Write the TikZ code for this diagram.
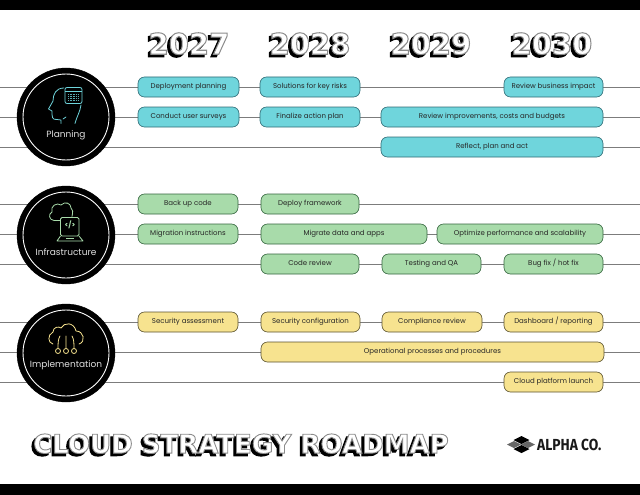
\documentclass[tikz,border=0pt]{standalone}
\usepackage{fontspec}
\setmainfont{Poppins}
\newfontfamily\blockfill[FakeBold=3.5]{DejaVu Sans Bold}
\newfontfamily\blockdark[FakeBold=4]{DejaVu Sans Bold}
\newfontfamily\logofont[FakeStretch=0.86]{Fira Sans Bold}
\definecolor{planfill}{HTML}{6FD5DC}
\definecolor{planedge}{HTML}{2F6B75}
\definecolor{infrafill}{HTML}{A8DBAA}
\definecolor{infraedge}{HTML}{35663F}
\definecolor{implfill}{HTML}{F7E38F}
\definecolor{impledge}{HTML}{5A5230}
\definecolor{rowline}{HTML}{7C7C7C}
\definecolor{logogray}{HTML}{666666}
% extruded lettering: dark copy behind, white face with a grey stroke
\newcommand{\blocktext}[1]{\rlap{\kern-2.6pt\raisebox{-2.6pt}{\blockdark\color{black}#1}}{\blockfill\special{pdf:bcolor [1] [0.55]}#1\special{pdf:ecolor}}}
\tikzset{
  taskbox/.style={draw, rounded corners=6.5pt, line width=0.6pt, minimum height=20pt, inner sep=0pt, text height=5.2pt, text depth=1.6pt, font=\fontsize{7}{8}\selectfont, text=black!85},
  plantask/.style={taskbox, fill=planfill, draw=planedge},
  infratask/.style={taskbox, fill=infrafill, draw=infraedge},
  impltask/.style={taskbox, fill=implfill, draw=impledge},
  hub/.style={circle, fill=black, draw=black, minimum size=98pt, inner sep=0pt},
  hubname/.style={text=white!88!black, font=\fontsize{9}{10}\selectfont, inner sep=0pt},
  yearhead/.style={font=\fontsize{29}{30}\selectfont, inner sep=0pt},
}
\begin{document}
\begin{tikzpicture}[x=1pt,y=-1pt]
  \useasboundingbox (0,0) rectangle (640,495);

  % Frame bars
  \fill[black] (0,0) rectangle (640,10.5);
  \fill[black] (0,484) rectangle (640,495);

  % Year headings
  \node[yearhead] (y2027) at (189,45) {\blocktext{2027}};
  \node[yearhead] (y2028) at (310,45) {\blocktext{2028}};
  \node[yearhead] (y2029) at (431,45) {\blocktext{2029}};
  \node[yearhead] (y2030) at (552,45) {\blocktext{2030}};

  % Row lines
  \foreach \rowy in {87,117,147,204,234,264,322,352,382} {
    \coordinate (left\rowy) at (0,\rowy);
    \coordinate (right\rowy) at (640,\rowy);
    \draw[rowline, line width=0.9pt] (left\rowy) -- (right\rowy);
  }

  % Category circles
  \node[hub] (planning) at (66,117) {};
  \node[hub] (infra) at (66,235) {};
  \node[hub] (impl) at (66,353) {};
  \draw[white, line width=0.9pt] (planning.center) circle (43);
  \draw[white, line width=0.9pt] (infra.center) circle (43);
  \draw[white, line width=0.9pt] (impl.center) circle (43);
  \node[hubname] (planninglabel) at (66,135) {Planning};
  \node[hubname] (infralabel) at (66,252) {Infrastructure};
  \node[hubname] (impllabel) at (66,365) {Implementation};

  % Planning icon
  \draw[planfill, line width=0.8pt, line cap=round, line join=round]
    (64,88) .. controls (56,88) and (53,94) .. (53,101) -- (48.5,109) -- (52,111)
    .. controls (52,117) and (52,120) .. (57,119.5) -- (61,120) -- (61,123.5)
    (81,105) .. controls (80,112) and (77,116) .. (75,123.5)
    (63,119) -- (66,117);
  \draw[planfill, line width=0.8pt, rounded corners=2pt] (65,87.5) rectangle (82,103.5);
  \draw[planfill, line width=0.8pt] (65,91.5) -- (82,91.5);
  \foreach \dotrow in {94.5,96.5,98.5,100.5}
    \draw[planfill!80!black, line width=0.8pt, dash pattern=on 0.8pt off 0.8pt] (68,\dotrow) -- (79,\dotrow);

  % Infrastructure icon
  \draw[infrafill, line width=0.8pt, line cap=round, line join=round]
    (60,220.5) -- (54,220.5) .. controls (49,220) and (48,214) .. (52,212)
    .. controls (50,206) and (57,202) .. (61,205)
    .. controls (65,201) and (71,203) .. (71,208)
    .. controls (73,209) and (73,212) .. (72,216.5);
  \draw[infrafill, line width=0.8pt, rounded corners=1.5pt] (60.5,217.5) rectangle (79,236);
  \draw[infrafill, line width=0.8pt, line join=round] (60.5,236) -- (57,241) -- (83,241) -- (79,236);
  \draw[infrafill, line width=0.8pt] (66,238.5) -- (74,238.5);
  \node[text=infrafill, font=\fontsize{7}{8}\selectfont\bfseries, inner sep=0pt] (codemark) at (70,225) {</>};

  % Implementation icon
  \draw[implfill, line width=0.8pt, line cap=round, line join=round]
    (53,344) .. controls (48,343) and (47,335) .. (53,332)
    .. controls (53,327) and (59,326) .. (61,328)
    .. controls (64,322) and (74,322) .. (76,331)
    .. controls (84,331) and (86,342) .. (79,344);
  \draw[implfill, line width=0.8pt, line cap=round]
    (66,336) -- (66,348.5)
    (60,336) .. controls (58,339) and (58,344) .. (58,348.5)
    (72,336) .. controls (74,339) and (74,344) .. (74,348.5);
  \draw[implfill, line width=0.8pt] (58,351) circle (2.5) (66,351) circle (2.5) (74,351) circle (2.5);

  % Planning tasks
  \node[plantask, minimum width=101] (deployplan) at (188.5,87) {Deployment planning};
  \node[plantask, minimum width=100] (keyrisks) at (310,87) {Solutions for key risks};
  \node[plantask, minimum width=99] (bizimpact) at (553.5,87) {Review business impact};
  \node[plantask, minimum width=101] (surveys) at (188.5,117) {Conduct user surveys};
  \node[plantask, minimum width=100] (actionplan) at (310,117) {Finalize action plan};
  \node[plantask, minimum width=222] (improve) at (492,117) {Review improvements, costs and budgets};
  \node[plantask, minimum width=222] (reflect) at (492,147) {Reflect, plan and act};

  % Infrastructure tasks
  \node[infratask, minimum width=100] (backup) at (188,204) {Back up code};
  \node[infratask, minimum width=98] (framework) at (310,204) {Deploy framework};
  \node[infratask, minimum width=100] (migrate) at (188,234) {Migration instructions};
  \node[infratask, minimum width=166] (dataapps) at (344,234) {Migrate data and apps};
  \node[infratask, minimum width=166] (optimize) at (520,234) {Optimize performance and scalability};
  \node[infratask, minimum width=98] (codereview) at (310,264) {Code review};
  \node[infratask, minimum width=99] (testing) at (431.5,264) {Testing and QA};
  \node[infratask, minimum width=99] (bugfix) at (553.5,264) {Bug fix / hot fix};

  % Implementation tasks
  \node[impltask, minimum width=100] (assess) at (188,322) {Security assessment};
  \node[impltask, minimum width=99] (secconfig) at (310.5,322) {Security configuration};
  \node[impltask, minimum width=100] (comply) at (432,322) {Compliance review};
  \node[impltask, minimum width=99] (dashboard) at (553.5,322) {Dashboard / reporting};
  \node[impltask, minimum width=343] (operate) at (432.5,352) {Operational processes and procedures};
  \node[impltask, minimum width=99] (launch) at (553.5,382) {Cloud platform launch};

  % Title and logo
  \node[font=\fontsize{26}{27}\selectfont, inner sep=0pt] (title) at (241,445) {\blocktext{CLOUD STRATEGY ROADMAP}};
  \fill[black] (521.5,436) -- (529.5,440) -- (521.5,444) -- (513.5,440) -- cycle;
  \fill[logogray] (514,441) -- (521,444.5) -- (514,448) -- (507,444.5) -- cycle;
  \fill[logogray] (528,441) -- (535,444.5) -- (528,448) -- (521,444.5) -- cycle;
  \fill[black] (521.5,445) -- (529.5,449) -- (521.5,453) -- (513.5,449) -- cycle;
  \node[anchor=west, font=\logofont\fontsize{16}{17}\selectfont, text=black!90, inner sep=0pt] (company) at (537,445) {ALPHA CO.};
\end{tikzpicture}
\end{document}
